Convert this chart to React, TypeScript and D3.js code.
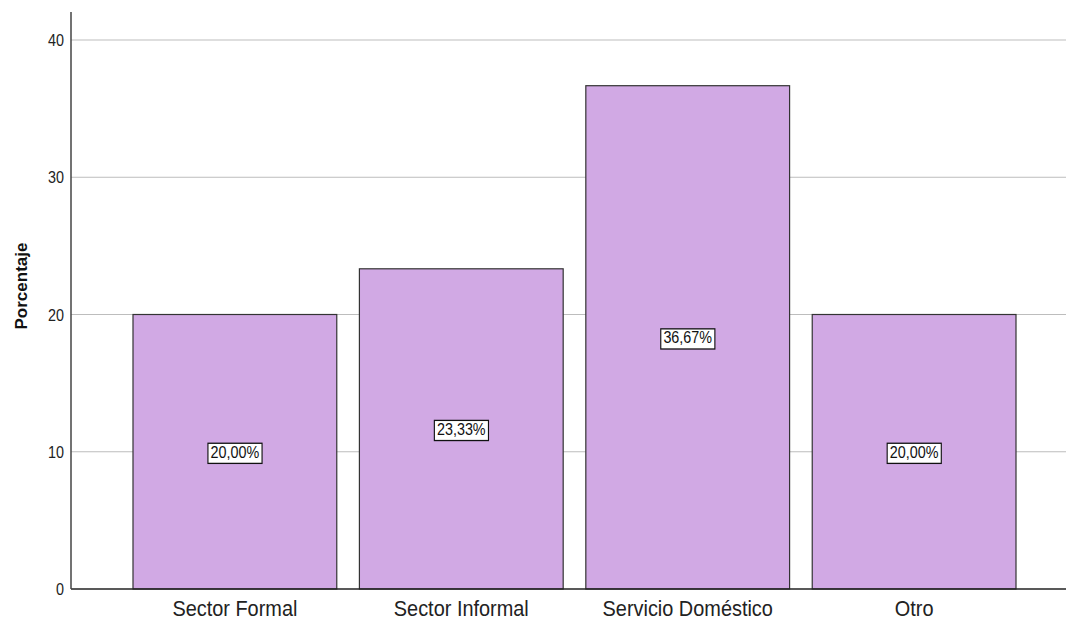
import React, { useEffect, useRef } from 'react';
import * as d3 from 'd3';

const categories = ['Sector Formal', 'Sector Informal', 'Servicio Doméstico', 'Otro'];
const percentages = [20.0, 23.33, 36.67, 20.0];
const yTicks = [0, 10, 20, 30, 40];

const width = 1066;
const height = 622;

function BarChart() {
  const svgRef = useRef<SVGSVGElement>(null);

  useEffect(() => {
    document.body.style.margin = '0';
    document.body.style.overflow = 'hidden';

    const svg = d3.select(svgRef.current);
    svg.selectAll('*').remove();

    const x = d3.scaleBand<string>()
      .domain(categories)
      .range([133, 1016])
      .paddingInner(0.1)
      .paddingOuter(0);

    const y = d3.scaleLinear()
      .domain([0, 40])
      .range([589, 40]);

    const font = '"Liberation Sans", Arial, sans-serif';
    const narrow = 0.87; // the original uses a condensed face

    // gridlines
    svg.append('g')
      .selectAll('line')
      .data(yTicks.filter(d => d > 0))
      .join('line')
      .attr('x1', 71)
      .attr('x2', width)
      .attr('y1', d => y(d))
      .attr('y2', d => y(d))
      .attr('stroke', '#bdbdbd')
      .attr('stroke-width', 1);

    // bars
    svg.append('g')
      .selectAll('rect')
      .data(percentages)
      .join('rect')
      .attr('x', (d, i) => x(categories[i])!)
      .attr('y', d => y(d))
      .attr('width', x.bandwidth())
      .attr('height', d => y(0) - y(d))
      .attr('fill', '#d1a9e4')
      .attr('stroke', '#333')
      .attr('stroke-width', 1.2);

    // bottom axis line
    svg.append('line')
      .attr('x1', 71)
      .attr('x2', width)
      .attr('y1', y(0))
      .attr('y2', y(0))
      .attr('stroke', '#222')
      .attr('stroke-width', 1.5);

    // left axis line
    svg.append('line')
      .attr('x1', 71)
      .attr('x2', 71)
      .attr('y1', 12)
      .attr('y2', y(0))
      .attr('stroke', '#444')
      .attr('stroke-width', 1.5);

    // y tick labels
    svg.append('g')
      .selectAll('text')
      .data(yTicks)
      .join('text')
      .attr('transform', d => `translate(64,${y(d) + 6}) scale(${narrow},1)`)
      .attr('text-anchor', 'end')
      .attr('font-family', font)
      .attr('font-size', 16.5)
      .attr('fill', '#222')
      .text(d => d);

    // category labels
    svg.append('g')
      .selectAll('text')
      .data(categories)
      .join('text')
      .attr('transform', d => `translate(${x(d)! + x.bandwidth() / 2},616) scale(0.885,1)`)
      .attr('text-anchor', 'middle')
      .attr('font-family', font)
      .attr('font-size', 22.5)
      .attr('fill', '#222')
      .text(d => d);

    // y axis title
    svg.append('text')
      .attr('transform', 'translate(27,286) rotate(-90)')
      .attr('text-anchor', 'middle')
      .attr('font-family', font)
      .attr('font-weight', 'bold')
      .attr('font-size', 17)
      .attr('fill', '#111')
      .text('Porcentaje');

    // value labels in boxes
    const fmt = (v: number) => v.toFixed(2).replace('.', ',') + '%';
    const labels = svg.append('g')
      .selectAll('g')
      .data(percentages)
      .join('g')
      .attr('transform', (d, i) => `translate(${x(categories[i])! + x.bandwidth() / 2},${y(d / 2)}) scale(${narrow},1)`);

    labels.append('text')
      .attr('text-anchor', 'middle')
      .attr('dy', '0.36em')
      .attr('font-family', font)
      .attr('font-size', 16.5)
      .attr('fill', '#111')
      .text(d => fmt(d))
      .each(function () {
        const bb = (this as SVGTextElement).getBBox();
        d3.select((this as SVGTextElement).parentNode as SVGGElement)
          .insert('rect', 'text')
          .attr('x', bb.x - 3)
          .attr('y', bb.y + 0.5)
          .attr('width', bb.width + 6)
          .attr('height', bb.height + 2)
          .attr('fill', 'white')
          .attr('stroke', '#111')
          .attr('stroke-width', 1.3);
      });
  }, []);

  return <svg ref={svgRef} width={width} height={height} style={{ display: 'block' }} />;
}

export default function App() {
  return <BarChart />;
}
